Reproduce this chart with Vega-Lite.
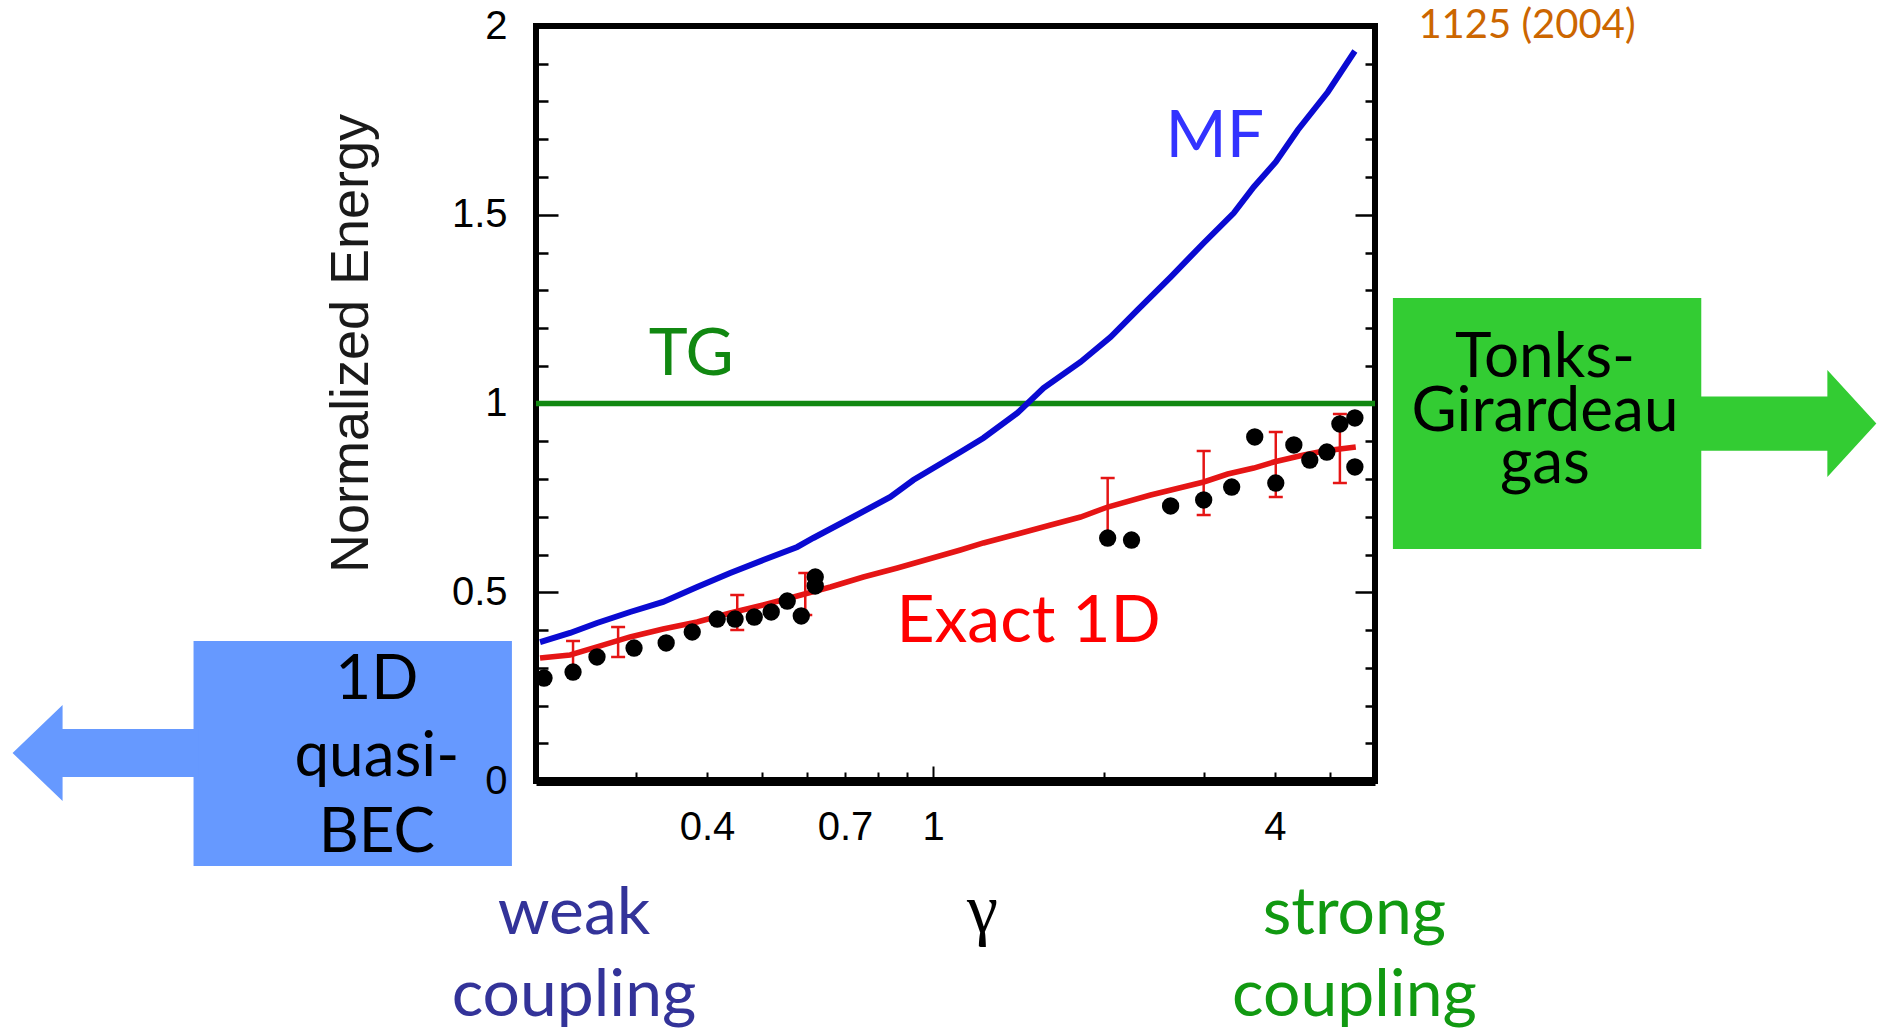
{
  "$schema": "https://vega.github.io/schema/vega-lite/v6.json",
  "width": 839,
  "height": 755,
  "autosize": {"type": "none"},
  "padding": {"left": 536, "top": 26, "right": 503, "bottom": 252},
  "background": "white",
  "config": {
    "view": {"stroke": "black", "strokeWidth": 6},
    "axis": {"grid": false}
  },
  "datasets": {
    "mf": [{"g":0.2033,"e":0.3682},{"g":0.2296,"e":0.3921},{"g":0.2561,"e":0.4185},{"g":0.2929,"e":0.4477},{"g":0.3348,"e":0.4742},{"g":0.3843,"e":0.5139},{"g":0.4395,"e":0.551},{"g":0.5024,"e":0.5854},{"g":0.5768,"e":0.6199},{"g":0.6155,"e":0.6437},{"g":0.7064,"e":0.6914},{"g":0.8412,"e":0.7523},{"g":0.9234,"e":0.7974},{"g":1.1176,"e":0.8715},{"g":1.2268,"e":0.9086},{"g":1.408,"e":0.9748},{"g":1.565,"e":1.041},{"g":1.819,"e":1.11},{"g":2.054,"e":1.176},{"g":2.292,"e":1.2477},{"g":2.62,"e":1.335},{"g":2.996,"e":1.4252},{"g":3.384,"e":1.5046},{"g":3.67,"e":1.5735},{"g":4.013,"e":1.6397},{"g":4.388,"e":1.7245},{"g":4.956,"e":1.8252},{"g":5.53,"e":1.9338}],
    "exact": [{"g":0.2033,"e":0.3258},{"g":0.2296,"e":0.3338},{"g":0.2561,"e":0.355},{"g":0.2929,"e":0.3815},{"g":0.3348,"e":0.4026},{"g":0.3843,"e":0.4212},{"g":0.4395,"e":0.445},{"g":0.5024,"e":0.4662},{"g":0.5768,"e":0.4901},{"g":0.6596,"e":0.5139},{"g":0.754,"e":0.5404},{"g":0.8654,"e":0.5642},{"g":1.1176,"e":0.6119},{"g":1.2268,"e":0.6305},{"g":1.408,"e":0.6543},{"g":1.611,"e":0.6781},{"g":1.819,"e":0.6993},{"g":2.03,"e":0.7258},{"g":2.416,"e":0.7576},{"g":2.996,"e":0.7921},{"g":3.302,"e":0.8132},{"g":3.67,"e":0.8291},{"g":3.98,"e":0.845},{"g":4.496,"e":0.8636},{"g":4.876,"e":0.8742},{"g":5.55,"e":0.8848}],
    "pts": [{"g":0.2066,"e":0.2728},{"g":0.2324,"e":0.2887},{"g":0.2561,"e":0.3285},{"g":0.2976,"e":0.3523},{"g":0.339,"e":0.3656},{"g":0.3768,"e":0.3947},{"g":0.4169,"e":0.4291},{"g":0.4483,"e":0.4291},{"g":0.4845,"e":0.4344},{"g":0.519,"e":0.4477},{"g":0.5538,"e":0.4768},{"g":0.5862,"e":0.4371},{"g":0.6204,"e":0.5404},{"g":0.6204,"e":0.5166},{"g":2.03,"e":0.6437},{"g":2.236,"e":0.6384},{"g":2.62,"e":0.7285},{"g":2.996,"e":0.7444},{"g":3.356,"e":0.7788},{"g":3.685,"e":0.9113},{"g":4.013,"e":0.7894},{"g":4.318,"e":0.8901},{"g":4.606,"e":0.8503},{"g":4.936,"e":0.8715},{"g":5.204,"e":0.9457},{"g":5.53,"e":0.9616},{"g":5.53,"e":0.8318}],
    "err": [{"g":0.2324,"lo":0.294,"hi":0.3709},{"g":0.279,"lo":0.3285,"hi":0.4079},{"g":0.4522,"lo":0.4,"hi":0.4927},{"g":0.5958,"lo":0.4397,"hi":0.551},{"g":2.03,"lo":0.649,"hi":0.8026},{"g":2.996,"lo":0.7046,"hi":0.8742},{"g":4.013,"lo":0.7523,"hi":0.9245},{"g":5.204,"lo":0.7894,"hi":0.9722}],
    "tg": [{"g":0.2,"g2":6,"e":1}],
    "boxes": [{"k":"bec","g":0.0499,"g2":0.1814,"e":0.3709,"e2":-0.2252},{"k":"tonks","g":6.452,"g2":22.52,"e":1.2795,"e2":0.6146}],
    "arrows": [{"k":"bec","g":0.03458,"e":0.0742},{"k":"tonks","g":32.12,"e":0.947}],
    "notes": [
      {"k":"mf","t":"MF","g":3.133,"e":1.653},
      {"k":"tg","t":"TG","g":0.3752,"e":1.0755},
      {"k":"exact","t":"Exact 1D","g":1.473,"e":0.3682},
      {"k":"ref","t":"1125 (2004)","g":11.11,"e":1.968},
      {"k":"box","t":"1D","g":0.1049,"e":0.2172},
      {"k":"box","t":"quasi-","g":0.1049,"e":0.01325},
      {"k":"box","t":"BEC","g":0.1049,"e":-0.1881},
      {"k":"box","t":"Tonks-","g":11.95,"e":1.0702},
      {"k":"box","t":"Girardeau","g":11.95,"e":0.9272},
      {"k":"box","t":"gas","g":11.95,"e":0.7894},
      {"k":"weak","t":"weak","g":0.2333,"e":-0.4053},
      {"k":"weak","t":"coupling","g":0.2333,"e":-0.6225},
      {"k":"strong","t":"strong","g":5.52,"e":-0.4053},
      {"k":"strong","t":"coupling","g":5.52,"e":-0.6225}
    ]
  },
  "encoding": {
    "x": {"field": "g", "type": "quantitative", "scale": {"type": "log", "domain": [0.2, 6], "nice": false}, "axis": null},
    "y": {"field": "e", "type": "quantitative", "scale": {"domain": [0, 2], "nice": false, "zero": false}, "axis": null}
  },
  "layer": [
    {
      "data": {"name": "boxes"},
      "transform": [{"filter": "datum.k == 'bec'"}],
      "mark": {"type": "rect", "color": "#6699ff", "opacity": 1},
      "encoding": {"x2": {"field": "g2"}, "y2": {"field": "e2"}}
    },
    {
      "data": {"name": "boxes"},
      "transform": [{"filter": "datum.k == 'tonks'"}],
      "mark": {"type": "rect", "color": "#33cc33", "opacity": 1},
      "encoding": {
        "x2": {"field": "g2"},
        "y": {"field": "e", "type": "quantitative", "scale": {"domain": [0, 2], "nice": false, "zero": false},
              "axis": {"orient": "right", "values": [0, 0.5, 1, 1.5, 2], "tickSize": -20, "tickWidth": 2.5, "tickColor": "black", "labels": false, "domain": false, "title": null}},
        "y2": {"field": "e2"}
      }
    },
    {
      "data": {"name": "arrows"},
      "transform": [{"filter": "datum.k == 'bec'"}],
      "mark": {"type": "point", "filled": true, "color": "#6699ff", "opacity": 1, "strokeWidth": 0, "size": 32761,
               "shape": "M 1.05 -0.265 L -0.4475 -0.265 L -0.4475 -0.53 L -1 0 L -0.4475 0.53 L -0.4475 0.265 L 1.05 0.265 Z"}
    },
    {
      "data": {"name": "arrows"},
      "transform": [{"filter": "datum.k == 'tonks'"}],
      "mark": {"type": "point", "filled": true, "color": "#33cc33", "opacity": 1, "strokeWidth": 0, "size": 30625,
               "shape": "M -1.05 -0.31 L 0.44 -0.31 L 0.44 -0.611 L 1 0 L 0.44 0.611 L 0.44 0.31 L -1.05 0.31 Z"}
    },
    {
      "data": {"name": "tg"},
      "mark": {"type": "rule", "color": "#118811", "strokeWidth": 5.5},
      "encoding": {
        "x": {"field": "g", "type": "quantitative", "scale": {"type": "log", "domain": [0.2, 6], "nice": false},
              "axis": {"orient": "bottom", "values": [1], "tickSize": -15, "tickWidth": 2, "tickColor": "black", "labels": false, "domain": false, "title": null}},
        "x2": {"field": "g2"},
        "y": {"field": "e", "type": "quantitative", "scale": {"domain": [0, 2], "nice": false, "zero": false},
              "axis": {"orient": "left", "values": [0, 0.5, 1, 1.5, 2], "tickSize": -22, "tickWidth": 2.5, "tickColor": "black", "labels": false, "domain": false, "title": null}}
      }
    },
    {
      "data": {"name": "mf"},
      "mark": {"type": "line", "color": "#0a0ad2", "strokeWidth": 6},
      "encoding": {
        "x": {"field": "g", "type": "quantitative", "scale": {"type": "log", "domain": [0.2, 6], "nice": false},
              "axis": {"orient": "bottom", "values": [0.3, 0.4, 0.5, 0.6, 0.7, 0.8, 0.9, 2, 3, 4, 5], "tickSize": -9, "tickWidth": 2, "tickColor": "black", "labels": false, "domain": false, "title": null}},
        "y": {"field": "e", "type": "quantitative", "scale": {"domain": [0, 2], "nice": false, "zero": false},
              "axis": {"orient": "left", "values": [0.1,0.2,0.3,0.4,0.6,0.7,0.8,0.9,1.1,1.2,1.3,1.4,1.6,1.7,1.8,1.9], "tickSize": -12, "tickWidth": 2.5, "tickColor": "black", "labels": false, "domain": false, "title": null}}
      }
    },
    {
      "data": {"name": "exact"},
      "mark": {"type": "line", "color": "#e51515", "strokeWidth": 5.5},
      "encoding": {
        "x": {"field": "g", "type": "quantitative", "scale": {"type": "log", "domain": [0.2, 6], "nice": false},
              "axis": {"orient": "bottom", "values": [0.4, 0.7, 1, 4], "format": "~g", "ticks": false, "domain": true, "domainWidth": 9, "domainColor": "black",
                       "labelPadding": 26, "labelFont": "Liberation Sans", "labelFontSize": 40, "labelColor": "black", "labelFlush": false, "labelOverlap": false, "labelBound": false,
                       "title": "γ", "titleFont": "Liberation Serif", "titleFontSize": 70, "titleFontWeight": "normal", "titleColor": "black",
                       "titleX": 446, "titleY": 150, "titleBaseline": "alphabetic", "titleAlign": "center", "zindex": 1}},
        "y": {"field": "e", "type": "quantitative", "scale": {"domain": [0, 2], "nice": false, "zero": false},
              "axis": {"orient": "left", "values": [0, 0.5, 1, 1.5, 2], "format": "~g", "ticks": false, "domain": false,
                       "labelPadding": 29, "labelFont": "Liberation Sans", "labelFontSize": 40, "labelColor": "black", "labelFlush": false, "labelOverlap": false, "labelBound": false,
                       "title": "Normalized Energy", "titleFont": "Liberation Sans", "titleFontSize": 54, "titleFontWeight": "normal", "titleColor": "#1a1a1a",
                       "titleAngle": 270, "titleX": -185, "titleY": 317, "titleBaseline": "middle", "titleAlign": "center", "zindex": 1}}
      }
    },
    {
      "data": {"name": "err"},
      "mark": {"type": "rule", "color": "#e51515", "strokeWidth": 2.5},
      "encoding": {
        "y": {"field": "lo", "type": "quantitative", "scale": {"domain": [0, 2], "nice": false, "zero": false}, "axis": null},
        "y2": {"field": "hi"}
      }
    },
    {
      "data": {"name": "err"},
      "transform": [{"fold": ["lo", "hi"], "as": ["end", "v"]}],
      "mark": {"type": "tick", "color": "#e51515", "orient": "horizontal", "size": 14, "thickness": 2.5, "opacity": 1},
      "encoding": {
        "y": {"field": "v", "type": "quantitative", "scale": {"domain": [0, 2], "nice": false, "zero": false}, "axis": null}
      }
    },
    {
      "data": {"name": "pts"},
      "mark": {"type": "point", "filled": true, "color": "black", "opacity": 1, "size": 300, "strokeWidth": 0},
      "encoding": {
        "y": {"field": "e", "type": "quantitative", "scale": {"domain": [0, 2], "nice": false, "zero": false},
              "axis": {"orient": "right", "values": [0.1,0.2,0.3,0.4,0.6,0.7,0.8,0.9,1.1,1.2,1.3,1.4,1.6,1.7,1.8,1.9], "tickSize": -10, "tickWidth": 2.5, "tickColor": "black", "labels": false, "domain": false, "title": null}}
      }
    },
    {
      "data": {"name": "notes"},
      "transform": [{"filter": "datum.k == 'mf'"}],
      "mark": {"type": "text", "font": "Lato", "fontSize": 66, "color": "#3333ff", "align": "center", "baseline": "alphabetic"},
      "encoding": {"text": {"field": "t"}}
    },
    {
      "data": {"name": "notes"},
      "transform": [{"filter": "datum.k == 'tg'"}],
      "mark": {"type": "text", "font": "Lato", "fontSize": 66, "color": "#118811", "align": "center", "baseline": "alphabetic"},
      "encoding": {"text": {"field": "t"}}
    },
    {
      "data": {"name": "notes"},
      "transform": [{"filter": "datum.k == 'exact'"}],
      "mark": {"type": "text", "font": "Lato", "fontSize": 66, "color": "#ff0000", "align": "center", "baseline": "alphabetic"},
      "encoding": {"text": {"field": "t"}}
    },
    {
      "data": {"name": "notes"},
      "transform": [{"filter": "datum.k == 'ref'"}],
      "mark": {"type": "text", "font": "Lato", "fontSize": 40, "color": "#cc6600", "align": "center", "baseline": "alphabetic"},
      "encoding": {"text": {"field": "t"}}
    },
    {
      "data": {"name": "notes"},
      "transform": [{"filter": "datum.k == 'box'"}],
      "mark": {"type": "text", "font": "Lato", "fontSize": 62, "color": "black", "align": "center", "baseline": "alphabetic"},
      "encoding": {"text": {"field": "t"}}
    },
    {
      "data": {"name": "notes"},
      "transform": [{"filter": "datum.k == 'weak'"}],
      "mark": {"type": "text", "font": "Lato", "fontSize": 66, "color": "#333399", "align": "center", "baseline": "alphabetic"},
      "encoding": {"text": {"field": "t"}}
    },
    {
      "data": {"name": "notes"},
      "transform": [{"filter": "datum.k == 'strong'"}],
      "mark": {"type": "text", "font": "Lato", "fontSize": 66, "color": "#119911", "align": "center", "baseline": "alphabetic"},
      "encoding": {"text": {"field": "t"}}
    }
  ],
  "resolve": {"axis": {"x": "independent", "y": "independent"}}
}
